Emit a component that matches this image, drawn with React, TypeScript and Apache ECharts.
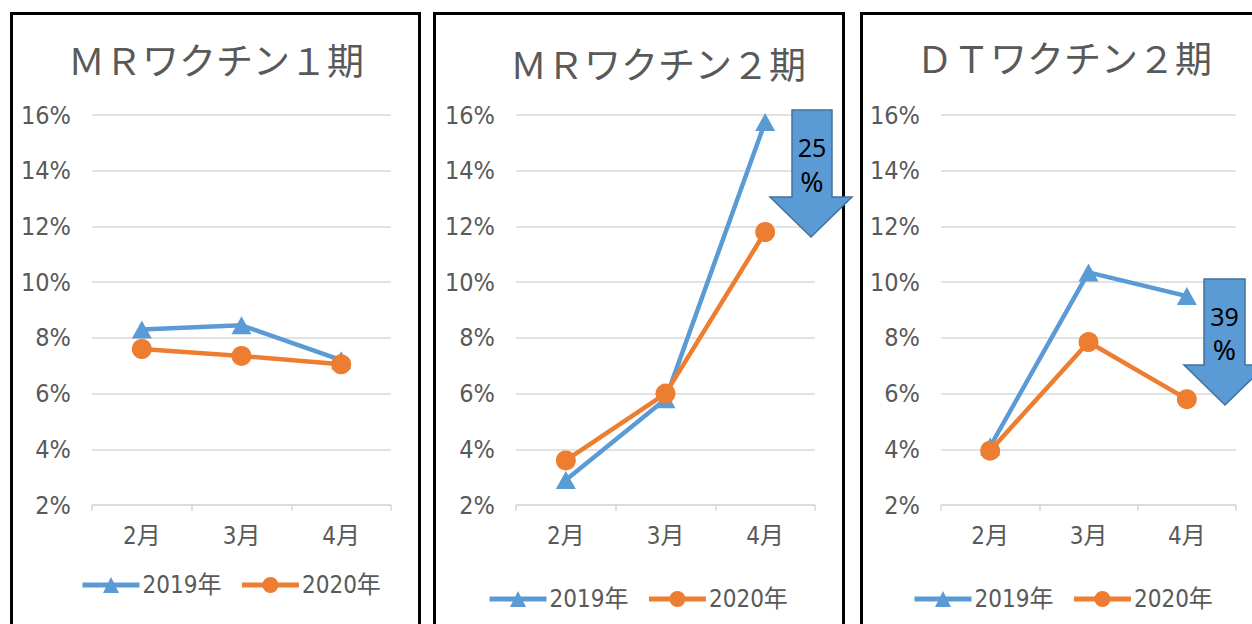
import React, { useEffect, useRef } from "react";
import * as echarts from "echarts";

const months = ["2月", "3月", "4月"];
const seriesNames = ["2019年", "2020年"];
const titles = ["ＭＲワクチン１期", "ＭＲワクチン２期", "ＤＴワクチン２期"];
const mr1_2019 = [8.3, 8.45, 7.2];
const mr1_2020 = [7.6, 7.35, 7.05];
const mr2_2019 = [2.9, 5.8, 15.75];
const mr2_2020 = [3.6, 6.0, 11.8];
const dt2_2019 = [4.1, 10.35, 9.5];
const dt2_2020 = [3.95, 7.85, 5.8];
const yTicks = { min: 2, max: 16, interval: 2 };
const dropLabels = ["25", "39"];

const BLUE = "#5B9BD5";
const ORANGE = "#ED7D31";
const GRAY = "#595959";
const GRID = "#D9D9D9";
const NARROW = "'Liberation Sans Narrow', 'DejaVu Sans Condensed', 'Noto Sans CJK JP', sans-serif";
const CJK = "'Noto Sans CJK JP', sans-serif";

export default function App() {
  const ref = useRef<HTMLDivElement>(null);
  useEffect(() => {
    if (!ref.current) return;
    const chart = echarts.init(ref.current, undefined, { renderer: "svg" });
    const panels = [
      { left: 92, width: 299, legendLeft: 80, legendTop: 573, titleX: 216, titleY: 59, a: mr1_2019, b: mr1_2020 },
      { left: 516, width: 299, legendLeft: 487, legendTop: 587, titleX: 658, titleY: 63, a: mr2_2019, b: mr2_2020 },
      { left: 941, width: 295, legendLeft: 912, legendTop: 587, titleX: 1064, titleY: 57, a: dt2_2019, b: dt2_2020 },
    ];
    const grids = panels.map((p) => ({ left: p.left, width: p.width, top: 115, height: 390 }));
    const xAxes = panels.map((_, i) => ({
      type: "category",
      gridIndex: i,
      data: months,
      boundaryGap: true,
      axisLine: { lineStyle: { color: GRID, width: 1.5 } },
      axisTick: { show: true, length: 6, lineStyle: { color: GRID, width: 1.5 } },
      axisLabel: { color: GRAY, fontSize: 24, fontFamily: NARROW, margin: 19 },
    }));
    const yAxes = panels.map((_, i) => ({
      type: "value",
      gridIndex: i,
      min: yTicks.min,
      max: yTicks.max,
      interval: yTicks.interval,
      axisLine: { show: false },
      axisTick: { show: false },
      splitLine: { lineStyle: { color: GRID, width: 1.5 } },
      axisLabel: { formatter: "{value}%", color: GRAY, fontSize: 25, fontFamily: NARROW, margin: 21 },
    }));
    const series: any[] = [];
    panels.forEach((p, i) => {
      series.push({
        name: seriesNames[0], type: "line", xAxisIndex: i, yAxisIndex: i, data: p.a,
        symbol: "triangle", symbolSize: [20, 18],
        lineStyle: { color: BLUE, width: 4.5 }, itemStyle: { color: BLUE }, z: 2,
      });
      series.push({
        name: seriesNames[1], type: "line", xAxisIndex: i, yAxisIndex: i, data: p.b,
        symbol: "circle", symbolSize: 20,
        lineStyle: { color: ORANGE, width: 4.5 }, itemStyle: { color: ORANGE }, z: 3,
      });
    });
    const legends = panels.map((p) => ({
      data: seriesNames,
      left: p.legendLeft,
      top: p.legendTop,
      padding: 0,
      itemWidth: 57,
      itemHeight: 20,
      itemGap: 18,
      lineStyle: { width: 5 },
      textStyle: { color: GRAY, fontSize: 24, fontFamily: NARROW, padding: [0, 0, 0, -2] },
    }));
    const borders = [
      { x: 11.5, w: 408 },
      { x: 434.5, w: 409 },
      { x: 861.5, w: 500 },
    ].map((b) => ({
      type: "rect", shape: { x: b.x, y: 13.5, width: b.w, height: 700 },
      style: { fill: "none", stroke: "#000", lineWidth: 3 }, z: 10,
    }));
    const titleEls = panels.map((p, i) => ({
      type: "text", x: p.titleX, y: p.titleY, z: 10,
      style: { text: titles[i], fill: GRAY, fontSize: 37, fontFamily: CJK, align: "center", verticalAlign: "middle", textAlign: "center", textVerticalAlign: "middle" },
    }));
    const arrows = [
      { sl: 792, sr: 832, top: 110, ht: 197, hl: 770, hr: 852, tx: 811, ty: 237, label: dropLabels[0], ly1: 147, ly2: 181 },
      { sl: 1204, sr: 1245, top: 279, ht: 365, hl: 1184, hr: 1266, tx: 1225, ty: 405, label: dropLabels[1], ly1: 316, ly2: 349 },
    ];
    const arrowEls: any[] = [];
    arrows.forEach((a) => {
      arrowEls.push({
        type: "polygon", z: 20,
        shape: { points: [[a.sl, a.top], [a.sr, a.top], [a.sr, a.ht], [a.hr, a.ht], [a.tx, a.ty], [a.hl, a.ht], [a.sl, a.ht]] },
        style: { fill: BLUE, stroke: "#41719C", lineWidth: 1.5 },
      });
      arrowEls.push({
        type: "text", x: (a.sl + a.sr) / 2, y: a.ly1, z: 21,
        style: { text: a.label, fill: "#000", fontSize: 25, fontFamily: "'Noto Sans', sans-serif", align: "center", verticalAlign: "middle", textAlign: "center", textVerticalAlign: "middle" },
      });
      arrowEls.push({
        type: "text", x: (a.sl + a.sr) / 2, y: a.ly2, z: 21,
        style: { text: "%", fill: "#000", fontSize: 28, fontFamily: "'Noto Sans', sans-serif", align: "center", verticalAlign: "middle", textAlign: "center", textVerticalAlign: "middle" },
      });
    });
    chart.setOption({
      animation: false,
      backgroundColor: "#fff",
      grid: grids,
      xAxis: xAxes,
      yAxis: yAxes,
      legend: legends,
      series,
      graphic: [...borders, ...titleEls, ...arrowEls],
    });
    return () => chart.dispose();
  }, []);
  return <div ref={ref} style={{ position: "absolute", left: 0, top: 0, width: 1252, height: 624 }} />;
}
